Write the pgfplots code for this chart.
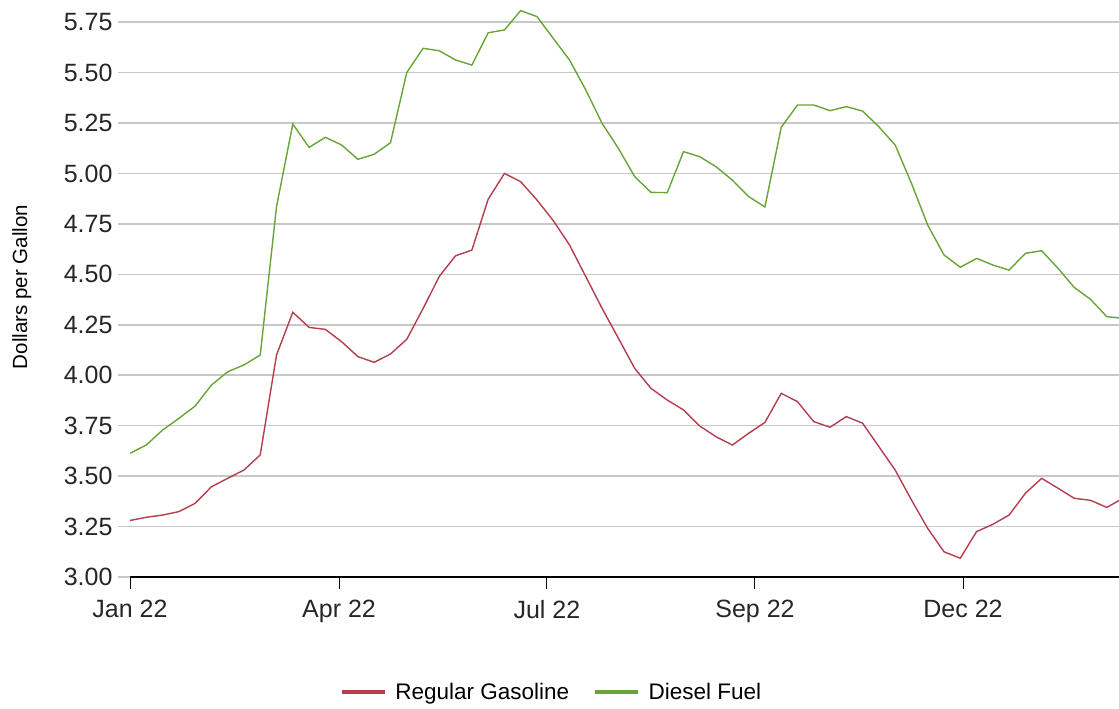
\documentclass[border=0pt]{standalone}
\usepackage{fontspec}
\setmainfont{Liberation Sans}
\usepackage{pgfplots}
\pgfplotsset{compat=1.18}
\definecolor{gasred}{RGB}{178,62,78}
\definecolor{dieselgreen}{RGB}{104,164,56}
\definecolor{gridgray}{RGB}{200,200,200}
\begin{document}
\begin{tikzpicture}
\begin{axis}[
  at={(130bp,132bp)}, anchor=south west,
  scale only axis, width=989bp, height=577bp,
  xmin=0, xmax=60.75, ymin=3, ymax=5.8595,
  axis x line*=bottom, axis y line*=left,
  y axis line style={draw=none},
  x axis line style={black, line width=1.3bp},
  xtick={0,12.84,25.61,38.39,51.17},
  xticklabels={Jan 22,Apr 22,Jul 22,Sep 22,Dec 22},
  ytick={3,3.25,3.5,3.75,4,4.25,4.5,4.75,5,5.25,5.5,5.75},
  yticklabel={\pgfmathprintnumber[fixed,fixed zerofill,precision=2,assume math mode=true]{\tick}},
  tick align=outside,
  major tick length=12bp,
  ytick style={gridgray, line width=1.5bp},
  xtick style={black, line width=1bp},
  ymajorgrids,
  major grid style={gridgray, line width=1.5bp},
  tick label style={font=\fontsize{25bp}{28bp}\selectfont, text=black!85},
  xticklabel style={yshift=-8bp},
  yticklabel style={xshift=-2bp},
  ylabel={Dollars per Gallon},
  ylabel style={font=\fontsize{20.5bp}{24bp}\selectfont, at={(axis description cs:-0.1095,0.5026)}, anchor=center, rotate=0},
  legend style={at={(axis description cs:0.4262,-0.1993)}, anchor=center, draw=none, fill=none,
    legend columns=2, font=\fontsize{22.5bp}{26bp}\selectfont,
    /tikz/every even column/.append style={column sep=22bp}},
  legend image code/.code={\draw[#1, line width=3.5bp] (0bp,0bp) -- (43bp,0bp); \path (51bp,0bp);},
  clip=true,
]
\addplot[gasred, line width=1.4bp] coordinates {
(0,3.28) (1,3.296) (2,3.307) (3,3.324) (4,3.365) (5,3.447) (6,3.489) (7,3.53) (8,3.605) (9,4.10)
(10,4.312) (11,4.237) (12,4.227) (13,4.166) (14,4.092) (15,4.064) (16,4.105) (17,4.178) (18,4.33) (19,4.49)
(20,4.592) (21,4.62) (22,4.872) (23,5.00) (24,4.959) (25,4.868) (26,4.766) (27,4.645) (28,4.488) (29,4.331)
(30,4.183) (31,4.034) (32,3.935) (33,3.877) (34,3.828) (35,3.748) (36,3.695) (37,3.654) (38,3.712) (39,3.766)
(40,3.91) (41,3.869) (42,3.77) (43,3.742) (44,3.795) (45,3.762) (46,3.646) (47,3.53) (48,3.382) (49,3.241)
(50,3.125) (51,3.093) (52,3.225) (53,3.261) (54,3.307) (55,3.415) (56,3.489) (57,3.44) (58,3.39) (59,3.38)
(60,3.345) (61,3.39)
};
\addlegendentry{Regular Gasoline}
\addplot[dieselgreen, line width=1.4bp] coordinates {
(0,3.613) (1,3.654) (2,3.728) (3,3.786) (4,3.847) (5,3.951) (6,4.017) (7,4.051) (8,4.100) (9,4.835)
(10,5.245) (11,5.129) (12,5.179) (13,5.141) (14,5.07) (15,5.095) (16,5.152) (17,5.50) (18,5.62) (19,5.608)
(20,5.562) (21,5.537) (22,5.697) (23,5.711) (24,5.807) (25,5.777) (26,5.669) (27,5.562) (28,5.413) (29,5.248)
(30,5.124) (31,4.984) (32,4.906) (33,4.905) (34,5.108) (35,5.083) (36,5.033) (37,4.967) (38,4.885) (39,4.834)
(40,5.228) (41,5.339) (42,5.339) (43,5.311) (44,5.331) (45,5.309) (46,5.231) (47,5.141) (48,4.951) (49,4.744)
(50,4.596) (51,4.535) (52,4.579) (53,4.546) (54,4.521) (55,4.604) (56,4.617) (57,4.53) (58,4.435) (59,4.376)
(60,4.29) (61,4.282)
};
\addlegendentry{Diesel Fuel}
\end{axis}
\pgfresetboundingbox
\path[use as bounding box] (0,0) rectangle (1119bp,709bp);
\end{tikzpicture}
\end{document}
